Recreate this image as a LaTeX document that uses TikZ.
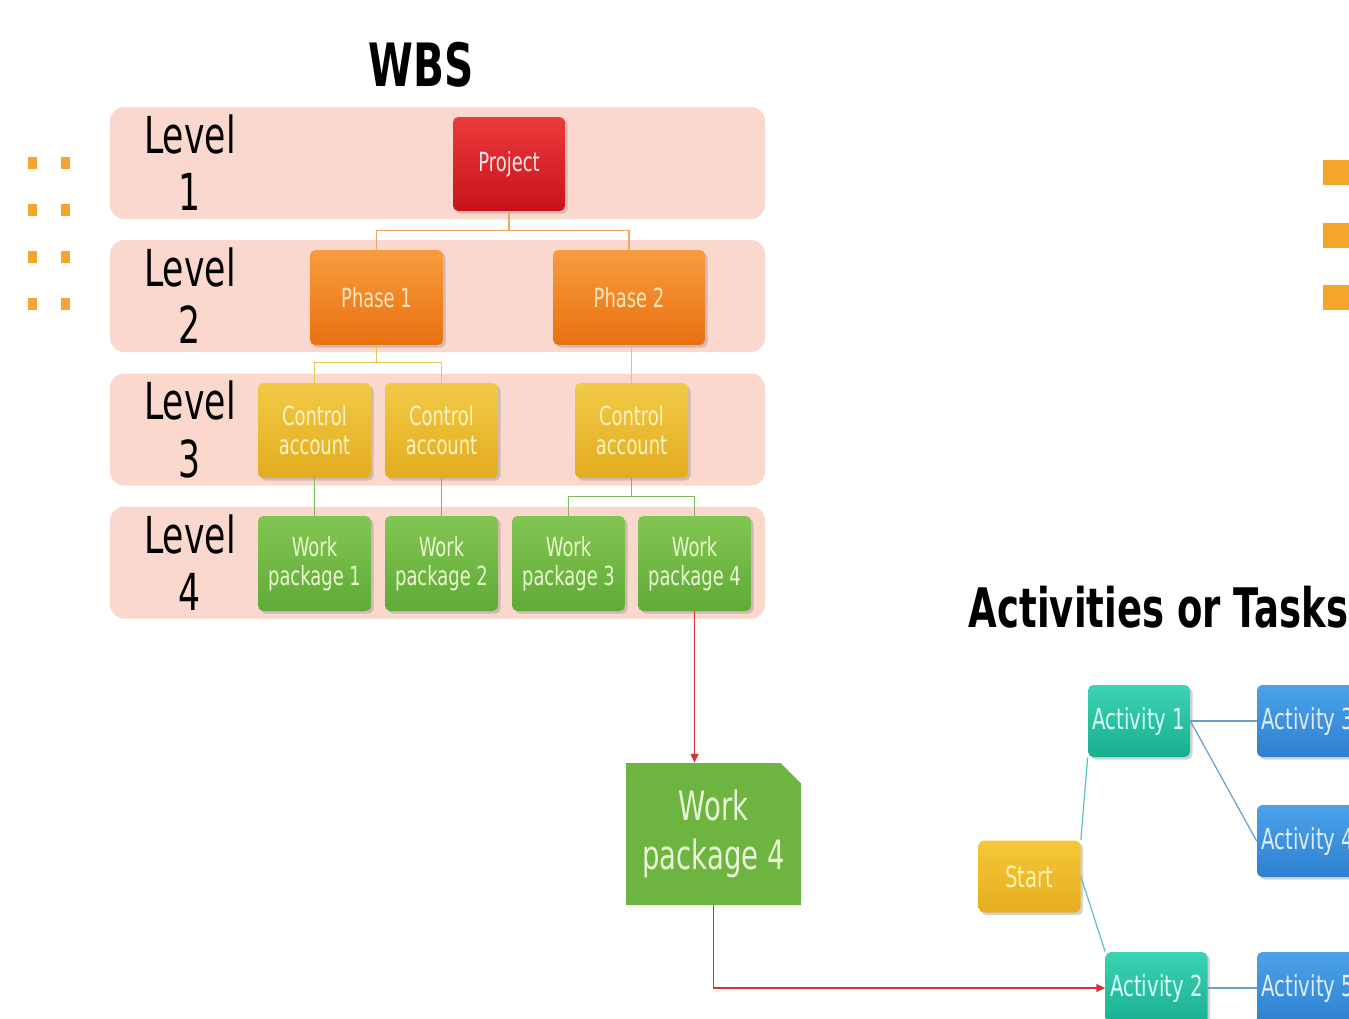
\documentclass[tikz,border=0pt]{standalone}
\usepackage{fontspec}
\setmainfont{DejaVu Sans}[FakeStretch=0.68]
\usetikzlibrary{shapes.misc,shadows,arrows.meta}

\definecolor{bandpink}{RGB}{250,216,205}
\definecolor{projtop}{RGB}{236,58,60}
\definecolor{projbot}{RGB}{200,18,26}
\definecolor{phasetop}{RGB}{249,156,62}
\definecolor{phasebot}{RGB}{233,112,16}
\definecolor{catop}{RGB}{242,202,70}
\definecolor{cabot}{RGB}{226,172,30}
\definecolor{wptop}{RGB}{130,198,82}
\definecolor{wpbot}{RGB}{96,170,56}
\definecolor{wpflat}{RGB}{110,180,64}
\definecolor{starttop}{RGB}{245,200,55}
\definecolor{startbot}{RGB}{230,172,30}
\definecolor{tealtop}{RGB}{60,210,180}
\definecolor{tealbot}{RGB}{24,176,144}
\definecolor{bluetop}{RGB}{76,162,234}
\definecolor{bluebot}{RGB}{46,128,208}
\definecolor{lineorange}{RGB}{240,168,96}
\definecolor{lineyellow}{RGB}{228,200,80}
\definecolor{linegreen}{RGB}{128,184,96}
\definecolor{lineteal}{RGB}{96,192,196}
\definecolor{lineblue}{RGB}{106,159,200}
\definecolor{linered}{RGB}{214,50,50}
\definecolor{dotorange}{RGB}{244,166,42}

\tikzset{
  box/.style={rectangle, rounded corners=3pt, align=center, inner sep=1pt,
    minimum width=2.26cm, minimum height=1.9cm, font=\fontsize{15}{16.5}\selectfont,
    drop shadow={shadow xshift=1.5pt, shadow yshift=-1.5pt, opacity=0.35}},
  projbox/.style={box, top color=projtop, bottom color=projbot, text=white!92!red,
    minimum width=2.24cm, minimum height=1.88cm},
  phasebox/.style={box, top color=phasetop, bottom color=phasebot, text={rgb,255:red,255;green,232;blue,190}},
  cabox/.style={box, top color=catop, bottom color=cabot, text={rgb,255:red,255;green,243;blue,196}},
  wpbox/.style={box, top color=wptop, bottom color=wpbot, text={rgb,255:red,234;green,248;blue,206}},
  wpbig/.style={chamfered rectangle, chamfered rectangle corners=north east,
    chamfered rectangle xsep=0.28cm, fill=wpflat, align=center, inner sep=1pt,
    minimum width=3.5cm, minimum height=2.84cm, text={rgb,255:red,232;green,246;blue,214},
    font=\fontsize{23}{28}\selectfont},
  actbox/.style={box, minimum width=2.04cm, minimum height=1.44cm, font=\fontsize{16.5}{18}\selectfont},
  startbox/.style={actbox, top color=starttop, bottom color=startbot, text={rgb,255:red,255;green,243;blue,180}},
  tealbox/.style={actbox, top color=tealtop, bottom color=tealbot, text={rgb,255:red,220;green,255;blue,244}},
  bluebox/.style={actbox, top color=bluetop, bottom color=bluebot, text={rgb,255:red,222;green,238;blue,255}},
  levellabel/.style={align=center, font=\fontsize{29}{32.5}\selectfont},
  title/.style={font=\bfseries\fontsize{31}{36}\selectfont},
  linkorange/.style={draw=lineorange, line width=0.8pt},
  linkyellow/.style={draw=lineyellow, line width=0.8pt},
  linkgreen/.style={draw=linegreen, line width=0.8pt},
  linkteal/.style={draw=lineteal, line width=0.7pt},
  linkblue/.style={draw=lineblue, line width=0.7pt},
  redarrow/.style={draw=linered, line width=0.8pt, -{Triangle[length=5pt,width=4.5pt]}}
}

\begin{document}
\begin{tikzpicture}[x=0.02cm, y=-0.02cm]
\path[use as bounding box] (0,0) rectangle (1349,1018);
\clip (0,0) rectangle (1349,1018);

\foreach \y in {163,296,429.5,562.5}
  \fill[bandpink, rounded corners=8pt] (110,{\y-56}) rectangle (765,{\y+56});
\foreach \n/\y in {1/163,2/296,3/429.5,4/562.5}
  \node[levellabel] (lvl\n) at (190,\y) {Level\\\n};

\foreach \y in {163,210,257,304} {
  \fill[dotorange] (28,{\y-6}) rectangle (37,{\y+6});
  \fill[dotorange] (61,{\y-6}) rectangle (70,{\y+6});
}
\foreach \y in {172.5,235.5,297.5}
  \fill[dotorange] (1323,{\y-12.5}) rectangle (1360,{\y+12.5});

\node[title, font=\bfseries\fontsize{34}{40}\selectfont] (wbs) at (421,65) {WBS};
\node[title] (acttitle) at (1158.5,607) {Activities or Tasks};

\node[projbox] (proj) at (509,164) {Project};
\node[phasebox, minimum width=2.66cm] (ph1) at (376.5,297.5) {Phase 1};
\node[phasebox, minimum width=3.04cm] (ph2) at (629,297.5) {Phase 2};
\node[cabox] (ca1) at (314.5,430.5) {Control\\account};
\node[cabox] (ca2) at (441.5,430.5) {Control\\account};
\node[cabox] (ca3) at (631.5,430.5) {Control\\account};
\node[wpbox] (wp1) at (314.5,563.5) {Work\\package 1};
\node[wpbox] (wp2) at (441.5,563.5) {Work\\package 2};
\node[wpbox] (wp3) at (568.5,563.5) {Work\\package 3};
\node[wpbox] (wp4) at (694.5,563.5) {Work\\package 4};
\node[wpbig] (wpbig) at (713.5,834) {Work\\package 4};

\node[startbox] (start) at (1029.5,876.5) {Start};
\node[tealbox] (act1) at (1139,721) {Activity 1};
\node[tealbox] (act2) at (1156.5,988) {Activity 2};
\node[bluebox] (act3) at (1308,721) {Activity 3};
\node[bluebox] (act4) at (1308,841) {Activity 4};
\node[bluebox] (act5) at (1308,988) {Activity 5};

\draw[linkorange] (proj.south) -- ++(0,19) -| (ph1.north);
\draw[linkorange] (proj.south) -- ++(0,19) -| (ph2.north);
\draw[linkyellow] (ph1.south) -- ++(0,17) -| (ca1.north);
\draw[linkyellow] (ph1.south) -- ++(0,17) -| (ca2.north);
\draw[linkyellow] (ca3.north) -- (ca3.north |- ph2.south);
\draw[linkgreen] (ca1.south) -- (wp1.north);
\draw[linkgreen] (ca2.south) -- (wp2.north);
\draw[linkgreen] (ca3.south) -- ++(0,18) -| (wp3.north);
\draw[linkgreen] (ca3.south) -- ++(0,18) -| (wp4.north);

\draw[redarrow] (wp4.south) -- (wp4.south |- wpbig.north);
\draw[redarrow] (wpbig.south) |- (act2.west);

\draw[linkteal] (start.north east) -- (act1.south west);
\draw[linkteal] (start.east) -- (act2.north west);
\draw[linkblue] (act1.east) -- (act3.west);
\draw[linkblue] (act1.east) -- (act4.west);
\draw[linkblue] (act2.east) -- (act5.west);
\end{tikzpicture}
\end{document}
